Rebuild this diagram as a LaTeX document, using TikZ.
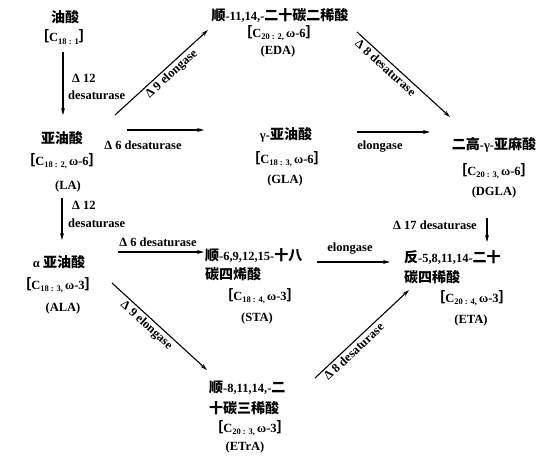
\documentclass[tikz,border=0pt]{standalone}
\usepackage{fontspec}
\setmainfont{Liberation Serif}
\newfontfamily\cjk[Scale=1.12]{Noto Sans CJK SC}
\usetikzlibrary{arrows.meta}
\newcommand{\zh}[1]{{\cjk #1}}
\newcommand{\sub}[1]{\raisebox{-2.5pt}{\fontsize{8.5}{9}\selectfont #1}}
\newcommand{\fa}[1]{\zh{［}#1\zh{］}}

\begin{document}
\begin{tikzpicture}[x=1pt, y=-1pt,
    every node/.style={font=\bfseries\fontsize{12.5}{14}\selectfont, inner sep=1pt},
    arr/.style={-{Stealth[length=7pt,width=4pt]}, line width=1.1pt}]
    \useasboundingbox[fill=white] (0,0) rectangle (549,464);

    % Omega-6 row
    \node (oa) at (65,17) {\zh{油酸}};
    \node (oa-f) at (64,37) {\fa{C\sub{18 : 1}}};

    \node (la) at (62,138) {\zh{亚油酸}};
    \node (la-f) at (62,161) {\fa{C\sub{18 : 2,}\,ω-6}};
    \node (la-ab) at (68,186) {(LA)};

    \node (eda) at (280,15) {\zh{顺}-11,14,-\zh{二十碳二稀酸}};
    \node (eda-f) at (279,33) {\fa{C\sub{20 : 2,}\,ω-6}};
    \node (eda-ab) at (278,51) {(EDA)};

    \node (gla) at (286,135) {γ-\zh{亚油酸}};
    \node (gla-f) at (287,159) {\fa{C\sub{18 : 3,}\,ω-6}};
    \node (gla-ab) at (285,180) {(GLA)};

    \node (dgla) at (494,145) {\zh{二高}-γ-\zh{亚麻酸}};
    \node (dgla-f) at (494,171) {\fa{C\sub{20 : 3,}\,ω-6}};
    \node (dgla-ab) at (494,192) {(DGLA)};

    % Omega-3 row
    \node (ala) at (59,262) {α \zh{亚油酸}};
    \node (ala-f) at (58,285) {\fa{C\sub{18 : 3,}\,ω-3}};
    \node (ala-ab) at (63,308) {(ALA)};

    \node[anchor=west] (sta) at (204,255) {\zh{顺}-6,9,12,15-\zh{十八}};
    \node[anchor=west] (sta2) at (204,274) {\zh{碳四烯酸}};
    \node (sta-f) at (260,296) {\fa{C\sub{18 : 4,}\,ω-3}};
    \node (sta-ab) at (257,318) {(STA)};

    \node[anchor=west] (eta) at (403,257) {\zh{反}-5,8,11,14-\zh{二十}};
    \node[anchor=west] (eta2) at (403,277) {\zh{碳四稀酸}};
    \node (eta-f) at (472,298) {\fa{C\sub{20 : 4,}\,ω-3}};
    \node (eta-ab) at (471,320) {(ETA)};

    \node[anchor=west] (etra) at (208,388) {\zh{顺}-8,11,14,-\zh{二}};
    \node[anchor=west] (etra2) at (208,408) {\zh{十碳三稀酸}};
    \node (etra-f) at (250,428) {\fa{C\sub{20 : 3,}\,ω-3}};
    \node (etra-ab) at (245,447) {(ETrA)};

    % Arrow ends
    \coordinate (oa-s) at (63,52);
    \coordinate (la-n) at (63,115);
    \coordinate (la-s) at (62,198);
    \coordinate (ala-n) at (62,240);
    \coordinate (la-ne) at (115,115);
    \coordinate (eda-sw) at (208,30);
    \coordinate (la-e) at (127,130);
    \coordinate (gla-w) at (204,130);
    \coordinate (eda-se) at (357,32);
    \coordinate (dgla-nw) at (450,117);
    \coordinate (gla-e) at (357,132);
    \coordinate (dgla-w) at (430,132);
    \coordinate (ala-e) at (118,252);
    \coordinate (sta-w) at (204,252);
    \coordinate (sta-e) at (317,262);
    \coordinate (eta-w) at (390,262);
    \coordinate (dgla-s) at (487,218);
    \coordinate (eta-n) at (487,242);
    \coordinate (ala-se) at (112,283);
    \coordinate (etra-nw) at (207,370);
    \coordinate (etra-ne) at (315,378);
    \coordinate (eta-sw) at (409,290);

    % Conversions
    \draw[arr] (oa-s) -- (la-n);
    \node[anchor=west] (d12a) at (71,78) {Δ 12};
    \node[anchor=west] (d12a-t) at (67,95) {desaturase};

    \draw[arr] (la-s) -- (ala-n);
    \node[anchor=west] (d12b) at (71,205) {Δ 12};
    \node[anchor=west] (d12b-t) at (67,223) {desaturase};

    \draw[arr] (la-ne) -- node[sloped, below, pos=0.55, yshift=-1pt] (d9a) {Δ 9 elongase} (eda-sw);
    \draw[arr] (la-e) -- (gla-w);
    \node (d6a) at (143,145) {Δ 6 desaturase};

    \draw[arr] (eda-se) -- node[sloped, below, pos=0.36, yshift=-1pt] (d8a) {Δ 8 desaturase} (dgla-nw);
    \draw[arr] (gla-e) -- (dgla-w);
    \node (elo-a) at (380,147) {elongase};

    \draw[arr] (ala-e) -- (sta-w);
    \node (d6b) at (158,242) {Δ 6 desaturase};
    \draw[arr] (sta-e) -- (eta-w);
    \node (elo-b) at (350,249) {elongase};
    \draw[arr] (dgla-s) -- (eta-n);
    \node (d17) at (435,225) {Δ 17 desaturase};

    \draw[arr] (ala-se) -- node[sloped, below, pos=0.42, yshift=-1pt] (d9b) {Δ 9 elongase} (etra-nw);
    \draw[arr] (etra-ne) -- node[sloped, below, pos=0.36, yshift=-1pt] (d8b) {Δ 8 desaturase} (eta-sw);
\end{tikzpicture}
\end{document}
